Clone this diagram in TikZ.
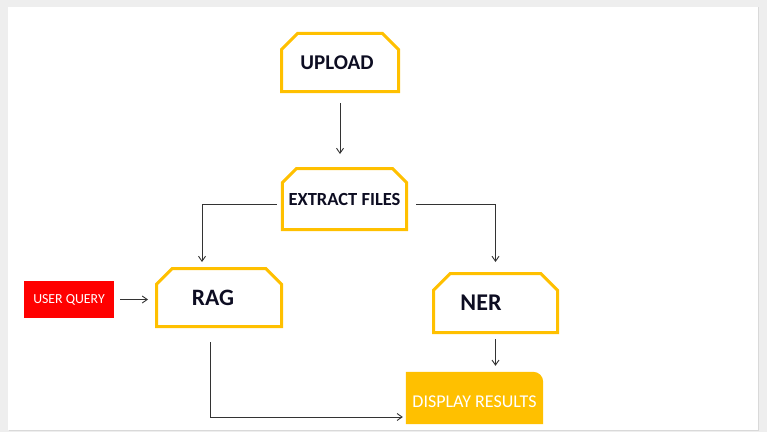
\documentclass[tikz,border=0pt]{standalone}
\usepackage{fontspec}
\setmainfont{Carlito}
\usetikzlibrary{arrows.meta, shapes.misc}

\definecolor{gold}{HTML}{FFC000}
\definecolor{inkblue}{HTML}{0D0D22}
\definecolor{paper}{HTML}{EEEEEE}
\definecolor{wire}{HTML}{333333}

\tikzset{
    stagebox/.style = {chamfered rectangle, chamfered rectangle corners={north west, north east},
        chamfered rectangle xsep=9pt, chamfered rectangle ysep=9pt, draw=gold, line width=3pt,
        fill=white, text=inkblue, font=\bfseries, inner sep=0pt},
    conn/.style = {wire, line width=0.9pt, -{Straight Barb[length=5pt, width=7pt]}}
}

\begin{document}
\begin{tikzpicture} [x=1pt, y=1pt]
        \useasboundingbox (0,0) rectangle (767,432);
        \fill [paper] (0,0) rectangle (767,432);
        \fill [black!15] (9,1) rectangle (759,425);
        \fill [white] (8,2) rectangle (758,425);

        \node (upload) [stagebox, minimum width=117pt, minimum height=58pt] at (340,369.5) {\fontsize{21}{24}\selectfont\raisebox{-3pt}{UPLOAD}\hspace*{6pt}};
        \node (ext) [stagebox, minimum width=124pt, minimum height=61pt, chamfered rectangle xsep=8pt, chamfered rectangle ysep=8pt] at (344.5,233) {\fontsize{18.5}{22}\selectfont EXTRACT FILES};
        \node (rag) [stagebox, minimum width=125pt, minimum height=58pt, chamfered rectangle xsep=8pt, chamfered rectangle ysep=8pt] at (219,134.5) {\fontsize{23.5}{26}\selectfont\raisebox{-2pt}{RAG}\hspace*{12pt}};
        \node (ner) [stagebox, minimum width=124pt, minimum height=59pt] at (495.5,129) {\fontsize{24}{27}\selectfont NER\hspace*{29pt}};
        \node (query) [fill=red, text=white, minimum width=90pt, minimum height=37pt, inner sep=0pt] at (69,132.5) {\fontsize{13.8}{16}\selectfont USER QUERY};
        \node (disp) [text=white, minimum width=137pt, minimum height=52pt, inner sep=0pt] at (474.5,34) {};
        \fill [gold] (disp.south west) -- (disp.north west) -- ([xshift=-10pt]disp.north east)
            arc [start angle=90, end angle=0, radius=10pt] -- (disp.south east) -- cycle;
        \node [text=white, font=\fontsize{18}{21}\selectfont] at ([yshift=-4pt]disp.center) {DISPLAY RESULTS};

        \draw [conn, shorten <=10pt, shorten >=13pt] (upload.south) -- (upload.south |- ext.north);
        \draw [conn, shorten <=4pt, shorten >=5pt] ([yshift=-5pt]ext.west) -| ([xshift=-17pt]rag.north);
        \draw [conn, shorten <=8pt, shorten >=10pt] ([yshift=-5pt]ext.east) -| (ner.north);
        \draw [conn, shorten <=6pt, shorten >=7pt] (query.east) -- (query.east -| rag.west);
        \draw [conn, shorten <=14pt, shorten >=3pt] ([xshift=-9pt]rag.south) |- ([yshift=-19pt]disp.west);
        \draw [conn, shorten <=5pt, shorten >=6pt] (ner.south) -- (ner.south |- disp.north);
    \end{tikzpicture}
\end{document}
